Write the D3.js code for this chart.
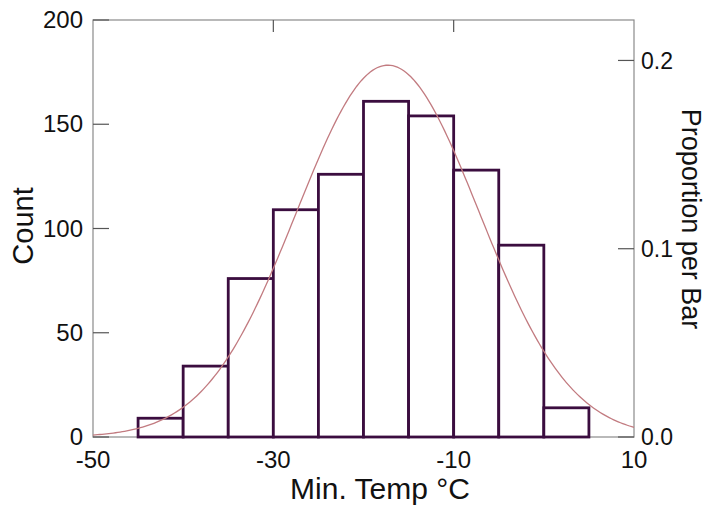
<!DOCTYPE html>
<html>
<head>
<meta charset="utf-8"/>
<title>Min. Temp histogram</title>
<script src="https://d3js.org/d3.v7.min.js"></script>
<style>
  body { margin: 0; background: #fff; }
  text { font-family: "Liberation Sans", Arial, sans-serif; fill: #111; }
</style>
</head>
<body>
<svg id="chart" width="708" height="510"></svg>
<script>
// bins of width 5 (lower edges) and counts
var binStarts = [-45, -40, -35, -30, -25, -20, -15, -10, -5, 0];
var binWidth = 5;
var counts = [9, 34, 76, 109, 126, 161, 154, 128, 92, 14];

// fitted normal curve parameters
var fitMean = -17.3;
var fitSd = 10.1;

var countTicks = [0, 50, 100, 150, 200];
var propTicks = [0, 0.1, 0.2];
var xTicks = [-50, -30, -10, 10];

var svg = d3.select("#chart"),
    margin = {top: 20, right: 74, bottom: 73, left: 93},
    width = +svg.attr("width") - margin.left - margin.right,
    height = +svg.attr("height") - margin.top - margin.bottom,
    g = svg.append("g").attr("transform", "translate(" + margin.left + "," + margin.top + ")");

var total = d3.sum(counts);

var x = d3.scaleLinear().domain([-50, 10]).range([0, width]);
var y = d3.scaleLinear().domain([0, 200]).range([height, 0]);
var yProp = d3.scaleLinear().domain([0, 200 / total]).range([height, 0]);

// frame
g.append("rect")
    .attr("width", width)
    .attr("height", height)
    .attr("fill", "none")
    .attr("stroke", "#8a8a8a")
    .attr("stroke-width", 1.2);

// left axis: ticks inside, labels outside
var left = g.append("g");
left.selectAll("line").data(countTicks).enter().append("line")
    .attr("x1", 0).attr("x2", 16)
    .attr("y1", function(d) { return y(d); })
    .attr("y2", function(d) { return y(d); })
    .attr("stroke", "#555").attr("stroke-width", 1.2);
left.selectAll("text").data(countTicks).enter().append("text")
    .attr("x", -10)
    .attr("y", function(d) { return y(d); })
    .attr("dy", "0.34em")
    .attr("text-anchor", "end")
    .style("font-size", "24px")
    .text(function(d) { return d; });

// right axis: proportion per bar
var right = g.append("g").attr("transform", "translate(" + width + ",0)");
right.selectAll("line").data(propTicks).enter().append("line")
    .attr("x1", -16).attr("x2", 0)
    .attr("y1", function(d) { return yProp(d); })
    .attr("y2", function(d) { return yProp(d); })
    .attr("stroke", "#555").attr("stroke-width", 1.2);
right.selectAll("text").data(propTicks).enter().append("text")
    .attr("x", 7)
    .attr("y", function(d) { return yProp(d); })
    .attr("dy", "0.36em")
    .style("font-size", "23px")
    .text(function(d) { return d3.format(".1f")(d); });

// top ticks at interior x values
g.selectAll(".top-tick").data(xTicks.slice(1, -1)).enter().append("line")
    .attr("class", "top-tick")
    .attr("x1", function(d) { return x(d); })
    .attr("x2", function(d) { return x(d); })
    .attr("y1", 0).attr("y2", 12)
    .attr("stroke", "#555").attr("stroke-width", 1.2);

// bottom labels
g.selectAll(".xlab").data(xTicks).enter().append("text")
    .attr("class", "xlab")
    .attr("x", function(d) { return x(d); })
    .attr("y", height + 31)
    .attr("text-anchor", "middle")
    .style("font-size", "24px")
    .text(function(d) { return d; });

// bars
var bins = binStarts.map(function(s, i) { return {x0: s, x1: s + binWidth, n: counts[i]}; });
g.selectAll(".bar").data(bins).enter().append("rect")
    .attr("class", "bar")
    .attr("x", function(d) { return x(d.x0); })
    .attr("y", function(d) { return y(d.n); })
    .attr("width", function(d) { return x(d.x1) - x(d.x0); })
    .attr("height", function(d) { return y(0) - y(d.n); })
    .attr("fill", "#fff")
    .attr("stroke", "#3b0d3f")
    .attr("stroke-width", 2.8);

// normal curve scaled to counts per bar
var curveXs = d3.range(-50, 10.01, 0.25);
var normal = function(v) {
  var z = (v - fitMean) / fitSd;
  return total * binWidth / (fitSd * Math.sqrt(2 * Math.PI)) * Math.exp(-0.5 * z * z);
};
var line = d3.line()
    .x(function(d) { return x(d); })
    .y(function(d) { return y(normal(d)); });
g.append("path")
    .datum(curveXs)
    .attr("fill", "none")
    .attr("stroke", "#c27b80")
    .attr("stroke-width", 1.3)
    .attr("d", line);

// axis titles
svg.append("text")
    .attr("transform", "translate(33,226) rotate(-90)")
    .attr("text-anchor", "middle")
    .style("font-size", "29px")
    .text("Count");

svg.append("text")
    .attr("transform", "translate(682,219) rotate(90)")
    .attr("text-anchor", "middle")
    .style("font-size", "27px")
    .text("Proportion per Bar");

svg.append("text")
    .attr("x", 380)
    .attr("y", 499)
    .attr("text-anchor", "middle")
    .style("font-size", "30px")
    .text("Min. Temp °C");
</script>
</body>
</html>
